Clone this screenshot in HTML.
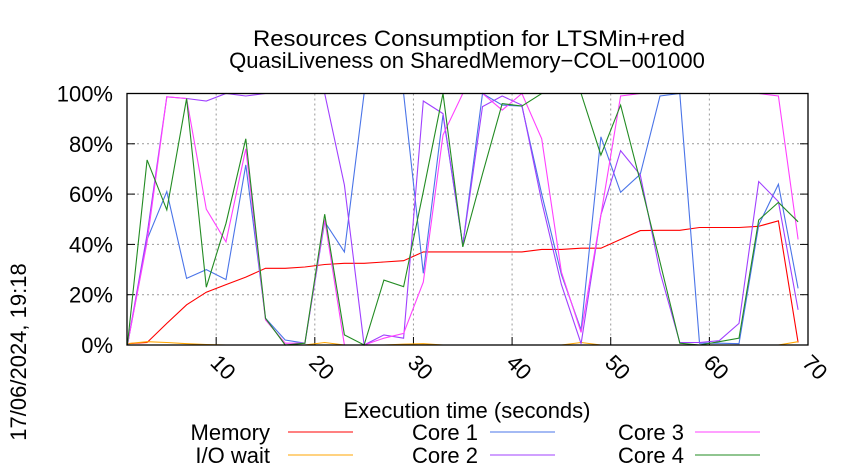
<!DOCTYPE html>
<html><head><meta charset="utf-8"><style>
html,body{margin:0;padding:0;background:#fff;}
svg{display:block;font-family:"Liberation Sans",sans-serif;}
</style></head><body>
<svg id="chart" width="850" height="475" viewBox="0 0 850 475" xmlns="http://www.w3.org/2000/svg">
<text x="469" y="46" font-size="22" text-anchor="middle" textLength="432" lengthAdjust="spacingAndGlyphs">Resources Consumption for LTSMin+red</text>
<text x="467" y="68" font-size="22" text-anchor="middle">QuasiLiveness on SharedMemory−COL−001000</text>
<text transform="translate(26,352) rotate(-90)" font-size="22" text-anchor="middle">17/06/2024, 19:18</text>
<text x="467" y="418" font-size="22" text-anchor="middle">Execution time (seconds)</text>
<g id="grid"></g>
<g id="series"></g>
<rect x="127" y="93.5" width="681" height="251.5" fill="none" stroke="#000" stroke-width="1.3"/>
<g id="legend"></g>
</svg>
<script>
const times=[1,3,5,7,9,11,13,15,17,19,21,23,25,27,29,31,33,35,37,39,41,43,45,47,49,51,53,55,57,59,61,63,65,67,69];
const memory=[0.5,1,8.6,16,21,24,27,30.5,30.5,31,32,32.5,32.5,33,33.5,37,37,37,37,37,37,38,38,38.5,38.5,42,45.5,45.6,45.6,46.7,46.7,46.7,47.2,49.4,1];
const ioWait=[0.5,1.3,1,0.5,0.2,0,0,0,0,0,1,0,0,0,0.3,0.5,0,0,0,0,0,0,0,1,0,0,0,0,0,0,0,0,0,0,1.3];
const core1=[0,42,61,26.5,30,26,71.6,10.6,2,0.7,49,37,100,100,100,28.5,91.5,39.8,100,95.4,95,60,28,6,82.8,60.7,67.9,99,100,0.7,0.7,0.5,47.7,63.9,22.5];
const core2=[0,44,98.7,98,97,100,99,100,100,100,100,63.6,0,4,2.7,97,92,39.8,94.8,99,95.4,57,24,0.5,51.7,77.3,67.6,29,1,1,1.7,8.6,65,57,14];
const core3=[0,41,98.7,98,54,41,78,10,0.7,0.7,50,0,0,2.7,4.6,25,83.5,100,100,93.4,100,82,29,5,51.7,99,100,100,100,100,100,100,100,99,42];
const core4=[0,73.6,53.7,98,23,48.4,82,10.6,0,0.7,52,4,0,25.8,23.2,61,100,39,68,96,95,100,100,100,75.5,95.4,65,33,0.7,0,1.3,2.7,49.7,56.7,49];
const xTicks=[10,20,30,40,50,60,70];
const yTicks=[0,20,40,60,80,100];

const NS="http://www.w3.org/2000/svg";
const X0=127,X1=808,Y0=345,Y1=93.5,TMIN=0.96,TMAX=70;
function xs(t){return X0+(t-TMIN)/(TMAX-TMIN)*(X1-X0);}
function ys(v){return Y0-v/100*(Y0-Y1);}
function mk(tag,attrs,parent){const e=document.createElementNS(NS,tag);for(const k in attrs)e.setAttribute(k,attrs[k]);parent.appendChild(e);return e;}
const grid=document.getElementById('grid');
yTicks.forEach(v=>{
  const y=ys(v);
  if(v>0&&v<100){const g=mk('line',{x1:X0,x2:X1,y1:y,y2:y,stroke:'#999','stroke-dasharray':'2,3','stroke-width':1},grid);
  
  }
  const t1=mk('line',{x1:X0,x2:X0+8,y1:y,y2:y,stroke:'#000'},grid);
  
  
  const t2=mk('line',{x1:X1-8,x2:X1,y1:y,y2:y,stroke:'#000'},grid);
  
  
  const lb=mk('text',{x:113,y:y+8,'font-size':22,'text-anchor':'end'},grid);
  lb.textContent=v+'%';
  
  
});
xTicks.forEach(v=>{
  const x=xs(v);
  if(v<70){const g=mk('line',{x1:x,x2:x,y1:Y1,y2:Y0,stroke:'#999','stroke-dasharray':'2,3','stroke-width':1},grid);
  
  }
  const t=mk('line',{x1:x,x2:x,y1:Y0-8,y2:Y0,stroke:'#000'},grid);
  
  
  const lb=mk('text',{transform:`translate(${x-7},${Y0+19}) rotate(45)`,'font-size':22},grid);
  lb.textContent=v;
  
  
});
const seriesDefs=[
 ['memory-line',memory,'#ff0000'],
 ['io-wait-line',ioWait,'#ffa500'],
 ['core1-line',core1,'#4a74e8'],
 ['core2-line',core2,'#a040ff'],
 ['core3-line',core3,'#ff40ff'],
 ['core4-line',core4,'#228b22']];
const sg=document.getElementById('series');
seriesDefs.forEach(([n,d,c])=>{
  const pts=d.map((v,i)=>xs(times[i]).toFixed(1)+','+ys(v).toFixed(1)).join(' ');
  const p=mk('polyline',{points:pts,fill:'none',stroke:c,'stroke-width':1.1},sg);
  
  
});
const legendItems=[['Memory','#ff0000',270,288,440],['I/O wait','#ffa500',270,288,463],
 ['Core 1','#4a74e8',478,490,440],['Core 2','#a040ff',478,490,463],
 ['Core 3','#ff40ff',684,695,440],['Core 4','#228b22',684,695,463]];
const lg=document.getElementById('legend');
legendItems.forEach(([lab,c,tx,lx,y])=>{
  const g=mk('g',{},lg);
  
  
  const t=mk('text',{x:tx,y:y,'font-size':22,'text-anchor':'end'},g);
  t.textContent=lab;
  mk('line',{x1:lx,x2:lx+65,y1:y-8,y2:y-8,stroke:c,'stroke-width':1.1},g);
});
</script>
</body></html>
